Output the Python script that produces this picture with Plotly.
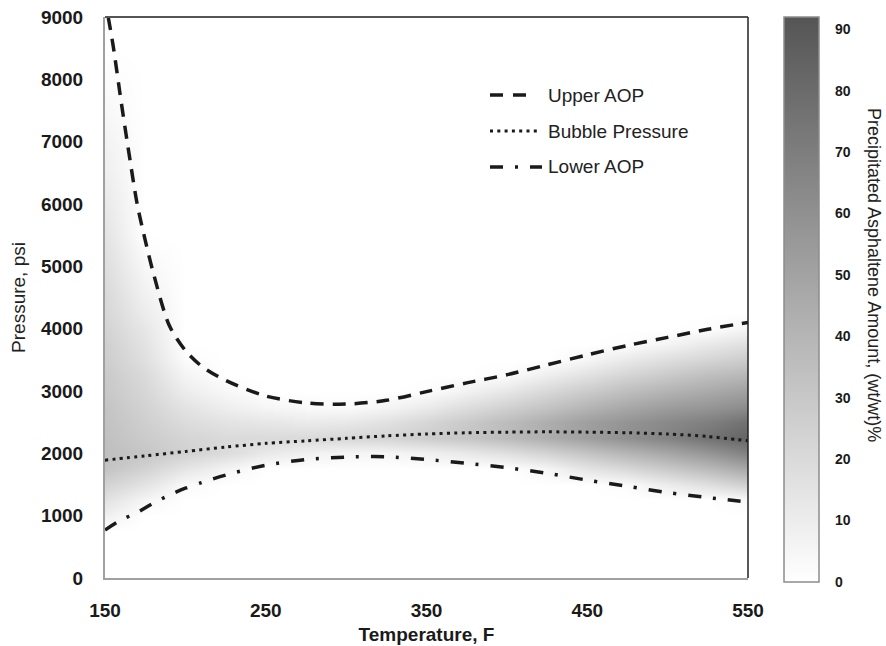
import plotly.graph_objects as go

# ---------------- data ----------------
upper_T = [152, 155, 160, 165, 170, 175, 180, 190, 200, 210, 225, 250, 275, 300, 325, 350, 375, 400, 425, 450, 475, 500, 525, 550]
upper_P = [9000, 8550, 7650, 6800, 6000, 5420, 4900, 4050, 3650, 3400, 3170, 2920, 2810, 2790, 2850, 2990, 3130, 3260, 3420, 3580, 3730, 3860, 3990, 4100]

bubble_T = [150, 175, 200, 225, 250, 275, 300, 325, 350, 375, 400, 425, 450, 475, 500, 525, 550]
bubble_P = [1890, 1960, 2030, 2100, 2160, 2200, 2240, 2280, 2310, 2330, 2340, 2345, 2340, 2330, 2310, 2270, 2200]

lower_T = [150, 160, 170, 180, 190, 200, 210, 225, 250, 275, 300, 325, 350, 375, 400, 425, 450, 475, 500, 525, 550]
lower_P = [770, 930, 1050, 1200, 1330, 1440, 1530, 1650, 1810, 1900, 1940, 1945, 1900, 1840, 1770, 1680, 1570, 1470, 1370, 1290, 1220]

heat_T = [150, 175, 200, 225, 250, 275, 300, 325, 350, 375, 400, 425, 450, 475, 500, 525, 550]
heat_P = [0, 250, 500, 750, 1000, 1250, 1500, 1750, 2000, 2250, 2500, 2750, 3000, 3250,
          3500, 3750, 4000, 4250, 4500, 5000, 5500, 6000, 6500, 7000, 7500, 8000, 8500, 9000]
asph_z = [
    [0, 0, 0, 0, 0, 0, 0, 0, 0, 0, 0, 0, 0, 0, 0, 0, 0],          # 0
    [0, 0, 0, 0, 0, 0, 0, 0, 0, 0, 0, 0, 0, 0, 0, 0, 0],          # 250
    [0, 0, 0, 0, 0, 0, 0, 0, 0, 0, 0, 0, 0, 0, 0, 0, 0],          # 500
    [0, 0, 0, 0, 0, 0, 0, 0, 0, 0, 0, 0, 0, 0, 0, 0, 0],          # 750
    [8, 0, 0, 0, 0, 0, 0, 0, 0, 0, 0, 0, 0, 0, 0, 0, 0],          # 1000
    [16, 5, 0, 0, 0, 0, 0, 0, 0, 0, 0, 0, 0, 0, 0, 0, 3],         # 1250
    [24, 15, 3, 0, 0, 0, 0, 0, 0, 0, 0, 0, 0, 2, 10, 17, 25],     # 1500
    [32, 24, 14, 6, 0, 0, 0, 0, 0, 0, 0, 5, 14, 21, 29, 37, 47],  # 1750
    [35, 31, 25, 19, 12, 8, 5, 5, 8, 12, 17, 24, 32, 40, 48, 57, 68],      # 2000
    [34, 28, 23, 20, 20, 20, 22, 23, 27, 31, 37, 44, 52, 60, 67, 76, 84],  # 2250
    [33, 26, 19, 15, 13, 11, 12, 16, 22, 29, 36, 44, 52, 58, 64, 69, 77],  # 2500
    [32, 24, 15, 9, 5, 3, 2, 5, 11, 18, 25, 32, 40, 47, 53, 57, 62],       # 2750
    [30, 22, 10, 4, 0, 0, 0, 0, 1, 7, 13, 21, 28, 35, 41, 46, 51],         # 3000
    [29, 20, 6, 0, 0, 0, 0, 0, 0, 0, 2, 9, 16, 23, 29, 35, 39],            # 3250
    [27, 17, 2, 0, 0, 0, 0, 0, 0, 0, 0, 0, 5, 12, 18, 23, 28],             # 3500
    [26, 15, 0, 0, 0, 0, 0, 0, 0, 0, 0, 0, 0, 1, 6, 12, 17],               # 3750
    [24, 13, 0, 0, 0, 0, 0, 0, 0, 0, 0, 0, 0, 0, 0, 1, 6],                 # 4000
    [22, 10, 0, 0, 0, 0, 0, 0, 0, 0, 0, 0, 0, 0, 0, 0, 0],                 # 4250
    [21, 8, 0, 0, 0, 0, 0, 0, 0, 0, 0, 0, 0, 0, 0, 0, 0],                  # 4500
    [18, 4, 0, 0, 0, 0, 0, 0, 0, 0, 0, 0, 0, 0, 0, 0, 0],                  # 5000
    [15, 0, 0, 0, 0, 0, 0, 0, 0, 0, 0, 0, 0, 0, 0, 0, 0],                  # 5500
    [12, 0, 0, 0, 0, 0, 0, 0, 0, 0, 0, 0, 0, 0, 0, 0, 0],                  # 6000
    [9, 0, 0, 0, 0, 0, 0, 0, 0, 0, 0, 0, 0, 0, 0, 0, 0],                   # 6500
    [7, 0, 0, 0, 0, 0, 0, 0, 0, 0, 0, 0, 0, 0, 0, 0, 0],                   # 7000
    [4, 0, 0, 0, 0, 0, 0, 0, 0, 0, 0, 0, 0, 0, 0, 0, 0],                   # 7500
    [2, 0, 0, 0, 0, 0, 0, 0, 0, 0, 0, 0, 0, 0, 0, 0, 0],                   # 8000
    [0, 0, 0, 0, 0, 0, 0, 0, 0, 0, 0, 0, 0, 0, 0, 0, 0],                   # 8500
    [0, 0, 0, 0, 0, 0, 0, 0, 0, 0, 0, 0, 0, 0, 0, 0, 0],                   # 9000
]

x_ticks = [150, 250, 350, 450, 550]
y_ticks = [0, 1000, 2000, 3000, 4000, 5000, 6000, 7000, 8000, 9000]
cb_ticks = [0, 10, 20, 30, 40, 50, 60, 70, 80, 90]
cb_max = 92

legend_names = ["Upper AOP", "Bubble Pressure", "Lower AOP"]

# ---------------- layout geometry ----------------
W, H = 886, 646
L, R, T, B = 105, 748, 17, 578          # plot area pixels
def px_x(px):
    return (px - L) / (R - L)
def px_y(py):
    return (B - py) / (B - T)

FONT = "Liberation Sans, Arial, Helvetica, sans-serif"
INK = "#1a1a1a"

cb_left, cb_right, cb_top, cb_bot = 784, 819, 17, 582

fig = go.Figure()

fig.add_trace(go.Heatmap(
    x=heat_T, y=heat_P, z=asph_z,
    zmin=0, zmax=cb_max, zsmooth="best",
    colorscale=[[0, "#ffffff"], [1, "#555555"]],
    showscale=True,
    hoverinfo="skip",
    colorbar=dict(
        x=px_x(cb_left), xanchor="left", xref="paper",
        y=px_y(cb_top), yanchor="top",
        len=(cb_bot - cb_top) / (B - T), lenmode="fraction",
        thickness=cb_right - cb_left, thicknessmode="pixels",
        xpad=0, ypad=0,
        outlinecolor="#8c8c8c", outlinewidth=1.5,
        tickmode="array", tickvals=cb_ticks,
        ticks="outside", ticklen=13, tickcolor="rgba(0,0,0,0)",
        tickfont=dict(family=FONT, size=14, color=INK, weight="bold"),
    ),
))

fig.add_trace(go.Scatter(
    x=upper_T, y=upper_P, mode="lines", name=legend_names[0],
    line=dict(color=INK, width=3.5, dash="13px,9px", shape="spline", smoothing=0.8),
    showlegend=False,
))
fig.add_trace(go.Scatter(
    x=bubble_T, y=bubble_P, mode="lines", name=legend_names[1],
    line=dict(color=INK, width=3, dash="3px,4.3px", shape="spline", smoothing=0.8),
    showlegend=False,
))
fig.add_trace(go.Scatter(
    x=lower_T, y=lower_P, mode="lines", name=legend_names[2],
    line=dict(color=INK, width=3.5, dash="13px,12px,3px,12px", shape="spline", smoothing=0.8),
    showlegend=False,
))

shapes = []
# top / right frame
shapes.append(dict(type="line", xref="paper", yref="paper", x0=0, x1=1, y0=1, y1=1,
                   line=dict(color="#555555", width=2)))
shapes.append(dict(type="line", xref="paper", yref="paper", x0=1, x1=1, y0=0, y1=1,
                   line=dict(color="#222222", width=1.5)))
# colorbar inner ticks on both edges
for v in cb_ticks[1:]:
    py = cb_bot - v * (cb_bot - cb_top) / cb_max
    for a, b in ((cb_left, cb_left + 7), (cb_right - 7, cb_right)):
        shapes.append(dict(type="line", xref="paper", yref="paper",
                           x0=px_x(a), x1=px_x(b), y0=px_y(py), y1=px_y(py),
                           line=dict(color="#707070", width=1.5)))

# manual legend
leg_rows = [95, 131, 167]
leg_ends = [528, 537, 542]
leg_dash = ["13px,10px", "3px,4.3px", "13px,12px,3px,12px"]
leg_w = [3.5, 3, 3.5]
annotations = []
for name, py, xe, d, w in zip(legend_names, leg_rows, leg_ends, leg_dash, leg_w):
    shapes.append(dict(type="line", xref="paper", yref="paper",
                       x0=px_x(490), x1=px_x(xe), y0=px_y(py), y1=px_y(py),
                       line=dict(color=INK, width=w, dash=d)))
    annotations.append(dict(xref="paper", yref="paper", x=px_x(546), y=px_y(py),
                            xanchor="left", yanchor="middle", showarrow=False,
                            text=name, font=dict(family=FONT, size=19, color="#222222")))

# colorbar title (reads top to bottom)
annotations.append(dict(xref="paper", yref="paper", x=px_x(874), y=px_y(275),
                        xanchor="center", yanchor="middle", showarrow=False, textangle=90,
                        text="Precipitated Asphaltene Amount, (wt/wt)%",
                        font=dict(family=FONT, size=18, color="#222222")))

fig.update_layout(
    width=W, height=H,
    margin=dict(l=L, r=W - R, t=T, b=H - B, pad=0, autoexpand=False),
    paper_bgcolor="white", plot_bgcolor="white",
    showlegend=False,
    shapes=shapes, annotations=annotations,
    font=dict(family=FONT, color=INK),
)
fig.update_xaxes(
    range=[150, 550], tickmode="array", tickvals=x_ticks,
    showgrid=False, zeroline=False, automargin=False,
    showline=True, linecolor="#a0a0a0", linewidth=2,
    ticks="outside", ticklen=14, tickcolor="rgba(0,0,0,0)",
    tickfont=dict(family=FONT, size=19, color=INK, weight="bold"),
    title=dict(text="Temperature, F", standoff=8,
               font=dict(family=FONT, size=19, color=INK, weight="bold")),
)
fig.update_yaxes(
    range=[0, 9000], tickmode="array", tickvals=y_ticks,
    showgrid=False, zeroline=False, automargin=False,
    showline=True, linecolor="#a0a0a0", linewidth=2,
    ticks="outside", ticklen=16, tickcolor="rgba(0,0,0,0)",
    tickfont=dict(family=FONT, size=19, color=INK, weight="bold"),
    title=dict(text="Pressure, psi", standoff=10,
               font=dict(family=FONT, size=19, color="#222222")),
)

fig.write_html("out.html", config={"displayModeBar": False},
               post_script="document.body.style.margin='0';document.body.style.padding='0';")
